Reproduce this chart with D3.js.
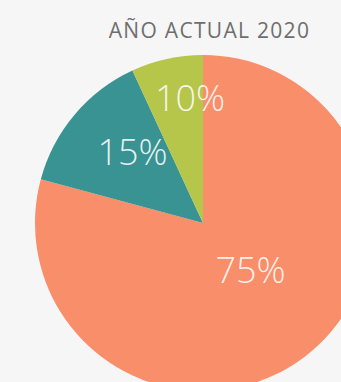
<!DOCTYPE html>
<html>
<head>
<meta charset="utf-8">
<script src="https://cdn.jsdelivr.net/npm/d3@7"></script>
<style>
  html, body { margin: 0; padding: 0; background: #f6f6f6; overflow: hidden; }
  svg { display: block; }
</style>
</head>
<body>
<svg id="chart"></svg>
<script>
// slice shares as drawn (angles), and the printed labels
const categories = ['Otros', 'Grupo B', 'Grupo C'];
const shares = [79.2, 13.9, 6.9];
const labels = ['75%', '15%', '10%'];
const title = 'AÑO ACTUAL 2020';

const W = 341, H = 382;
const CX = 203, CY = 223, R = 168;
const colors = ['#f98e6b', '#3a9393', '#b5c64a'];
const labelR = [0.40, 0.595, 0.75];     // label distance as a fraction of R
const labelShift = [-7.6, 5, 6.5];      // small angular nudge, degrees

const svg = d3.select('#chart').attr('width', W).attr('height', H);
svg.append('rect').attr('width', W).attr('height', H).attr('fill', '#f6f6f6');

svg.append('text')
  .attr('x', 209.5).attr('y', 38)
  .attr('text-anchor', 'middle')
  .attr('font-family', '"Open Sans", Lato, sans-serif')
  .attr('font-weight', 400)
  .attr('font-size', '21px')
  .attr('letter-spacing', '1.3px')
  .attr('fill', '#6e6e6e')
  .text(title);

const data = categories.map((c, i) => ({ c, v: shares[i], label: labels[i], i }));
const pie = d3.pie().sort(null).value(d => d.v);
const arcs = pie(data);
const arc = d3.arc().innerRadius(0).outerRadius(R);

const g = svg.append('g').attr('transform', `translate(${CX},${CY})`);
g.selectAll('path').data(arcs).join('path')
  .attr('d', arc)
  .attr('fill', d => colors[d.data.i]);

g.selectAll('text').data(arcs).join('text')
  .attr('transform', d => {
    const a = (d.startAngle + d.endAngle) / 2 + labelShift[d.data.i] * Math.PI / 180;
    const r = R * labelR[d.data.i];
    return `translate(${r * Math.sin(a)},${-r * Math.cos(a)})`;
  })
  .attr('text-anchor', 'middle')
  .attr('dy', '0.36em')
  .attr('font-family', '"Open Sans", Lato, sans-serif')
  .attr('font-weight', 300)
  .attr('font-size', '36px')
  .attr('fill', '#fff')
  .attr('fill-opacity', 0.88)
  .text(d => d.data.label);
</script>
</body>
</html>
